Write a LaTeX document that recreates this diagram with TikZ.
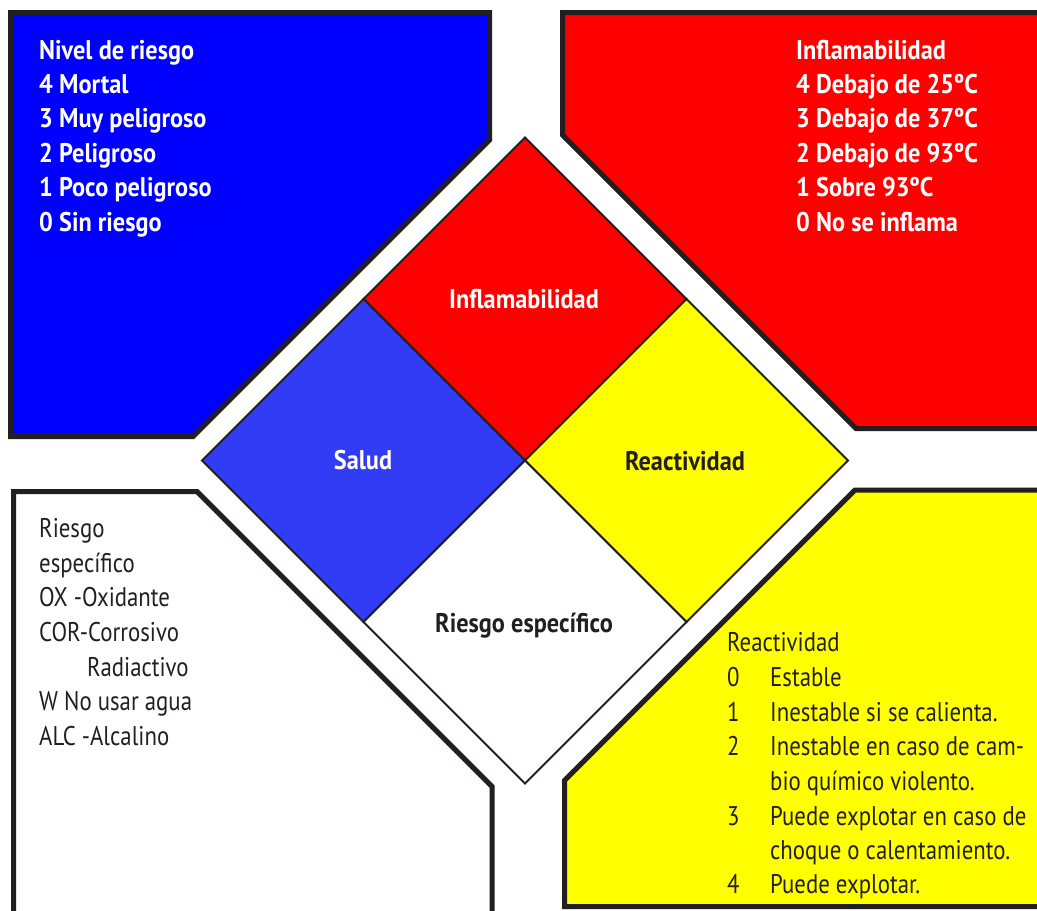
\documentclass[tikz,border=0pt]{standalone}
\usepackage{fontspec}
\setmainfont{PT Sans}[FakeStretch=0.845]
\newfontfamily\boldfam{PT Sans}[FakeStretch=0.90]
\definecolor{ink}{HTML}{231F20}
\definecolor{pblue}{RGB}{0,0,255}
\definecolor{sblue}{RGB}{50,60,245}
\definecolor{pred}{RGB}{255,0,0}
\definecolor{pyel}{RGB}{255,255,0}
\begin{document}
\begin{tikzpicture}[x=1pt,y=-1pt,
  panel/.style={draw=ink,line width=5pt,line join=miter},
  cell/.style={draw=ink,line width=1.8pt,line join=miter},
  txt/.style={anchor=base west,inner sep=0pt,font=\fontsize{27}{33}\selectfont},
  btxt/.style={txt,font=\fontsize{27}{33}\selectfont\boldfam\bfseries},
  lbl/.style={anchor=base,inner sep=0pt,font=\fontsize{27}{33}\selectfont\boldfam\bfseries}]
\useasboundingbox (0,0) rectangle (1037,911);
\clip (0,0) rectangle (1037,911);
% panels
\fill[white] (0,0) rectangle (1037,911);
\draw[panel,fill=pblue] (10.5,12.5) -- (489.5,12.5) -- (489.5,140) -- (193,436.5) -- (10.5,436.5) -- cycle;
\draw[panel,fill=pred] (562.5,12.5) -- (1050,12.5) -- (1050,428.5) -- (856,428.5) -- (562.5,135) -- cycle;
\draw[panel,fill=white] (13.5,491.5) -- (197,491.5) -- (492,786.5) -- (492,925) -- (13.5,925) -- cycle;
\draw[panel,fill=pyel] (855,490) -- (1050,490) -- (1050,906.5) -- (564.5,906.5) -- (564.5,780.5) -- cycle;
% diamond
\coordinate (T) at (525,137.5);
\coordinate (R) at (848,460.5);
\coordinate (B) at (525,783.5);
\coordinate (L) at (202,460.5);
\coordinate (C) at (525,460.5);
\coordinate (TL) at (363.5,299);
\coordinate (TR) at (686.5,299);
\coordinate (BR) at (686.5,622);
\coordinate (BL) at (363.5,622);
\draw[cell,fill=pred] (T) -- (TR) -- (C) -- (TL) -- cycle;
\draw[cell,fill=sblue] (TL) -- (C) -- (BL) -- (L) -- cycle;
\draw[cell,fill=pyel] (TR) -- (R) -- (BR) -- (C) -- cycle;
\draw[cell,fill=white] (C) -- (BR) -- (B) -- (BL) -- cycle;
\node[lbl,text=white] (lflam) at (524,308) {Inflamabilidad};
\node[lbl,text=white] (lsalud) at (363,469) {Salud};
\node[lbl,text=ink] (lreac) at (685,470) {Reactividad};
\node[lbl,text=ink] (lesp) at (524,632) {Riesgo específico};
% blue panel text
\foreach \t [count=\i from 0] in {Nivel de riesgo,4 Mortal,3 Muy peligroso,2 Peligroso,1 Poco peligroso,0 Sin riesgo}
  \node[btxt,text=white] (b\i) at (39,59+34.4*\i) {\t};
% red panel text
\foreach \t [count=\i from 0] in {Inflamabilidad,4 Debajo de 25ºC,3 Debajo de 37ºC,2 Debajo de 93ºC,1 Sobre 93ºC,0 No se inflama}
  \node[btxt,text=white] (r\i) at (796,59+34.4*\i) {\t};
% white panel text
\node[txt,text=ink] (w0) at (39,537) {Riesgo};
\node[txt,text=ink] (w1) at (39,572) {específico};
\node[txt,text=ink] (w2) at (39,606) {OX -Oxidante};
\node[txt,text=ink] (w3) at (39,641) {COR-Corrosivo};
\node[txt,text=ink] (w4) at (87,676) {Radiactivo};
\node[txt,text=ink] (w5) at (39,710) {W No usar agua};
\node[txt,text=ink] (w6) at (39,745) {ALC -Alcalino};
% yellow panel text
\node[txt,text=ink] (y0) at (727,651) {Reactividad};
\node[txt,text=ink] (n0) at (727,686) {0};
\node[txt,text=ink] (y1) at (770,686) {Estable};
\node[txt,text=ink] (n1) at (727,721) {1};
\node[txt,text=ink] (y2) at (770,721) {Inestable si se calienta.};
\node[txt,text=ink] (n2) at (727,755) {2};
\node[txt,text=ink] (y3) at (770,755) {Inestable en caso de cam-};
\node[txt,text=ink] (y4) at (770,790) {bio químico violento.};
\node[txt,text=ink] (n3) at (727,825) {3};
\node[txt,text=ink] (y5) at (770,825) {Puede explotar en caso de};
\node[txt,text=ink] (y6) at (770,859) {choque o calentamiento.};
\node[txt,text=ink] (n4) at (727,893) {4};
\node[txt,text=ink] (y7) at (770,893) {Puede explotar.};
\end{tikzpicture}
\end{document}
